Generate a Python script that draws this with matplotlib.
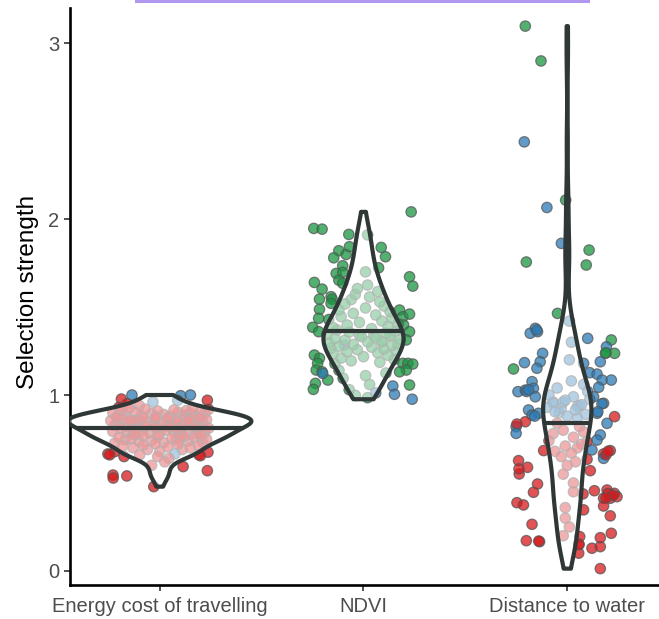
import numpy as np
import matplotlib
matplotlib.use("Agg")
import matplotlib.pyplot as plt
from matplotlib.patches import Polygon, Rectangle

# ---------------- data ----------------
categories = ["Energy cost of travelling", "NDVI", "Distance to water"]
y_ticks = [0, 1, 2, 3]

energy_y = [1.000, 0.996, 1.000, 0.977,
            0.960, 0.970, 0.970, 0.930, 0.940, 0.950,
            0.877, 0.879, 0.881, 0.884, 0.886, 0.888, 0.890, 0.893, 0.895, 0.897, 0.899, 0.902,
            0.904, 0.906, 0.909, 0.911, 0.913, 0.915, 0.918, 0.920, 0.922, 0.924,
            0.826, 0.828, 0.830, 0.832, 0.834, 0.836, 0.838, 0.840, 0.842, 0.844, 0.846, 0.848, 0.850,
            0.852, 0.854, 0.856, 0.858, 0.860, 0.862, 0.864, 0.866, 0.868, 0.870, 0.871, 0.872, 0.874,
            0.845, 0.855, 0.865, 0.875,
            0.776, 0.778, 0.780, 0.782, 0.785, 0.787, 0.789, 0.791, 0.793, 0.796, 0.798, 0.800,
            0.802, 0.804, 0.806, 0.809, 0.811, 0.813, 0.815, 0.817, 0.819, 0.821, 0.823,
            0.727, 0.730, 0.733, 0.735, 0.738, 0.741, 0.744, 0.746, 0.749, 0.752, 0.755, 0.758,
            0.761, 0.764, 0.766, 0.769, 0.771, 0.774,
            0.853, 0.857, 0.755,
            0.678, 0.675, 0.680, 0.690, 0.690, 0.700, 0.700, 0.705, 0.710, 0.712, 0.716, 0.720, 0.723,
            0.665, 0.660, 0.650, 0.660, 0.655, 0.665, 0.660, 0.650, 0.640,
            0.593, 0.620, 0.600,
            0.570, 0.545, 0.528, 0.540,
            0.479]
energy_x = [-0.136, 0.103, 0.151, -0.188,
            -0.033, 0.088, 0.234, -0.20, -0.10, -0.16,
            -0.21, 0.05, 0.18, -0.09, 0.12, -0.17, 0.02, 0.22, -0.04, 0.15, -0.23, 0.09,
            -0.12, 0.20, -0.01, 0.13, -0.19, 0.07, 0.24, -0.07, 0.16, -0.15,
            0.03, -0.22, 0.11, -0.03, 0.19, -0.11, 0.06, -0.20, 0.14, -0.06, 0.21, -0.14, 0.01,
            0.17, -0.24, 0.08, -0.10, 0.23, -0.02, 0.12, -0.18, 0.04, 0.20, -0.08, 0.15, -0.21,
            0.09, -0.12, 0.16, -0.02,
            0.10, -0.13, 0.00, 0.18, -0.05, 0.22, -0.16, 0.07, -0.23, 0.13, -0.09, 0.03,
            0.19, -0.12, 0.09, -0.19, 0.24, -0.02, 0.11, -0.15, 0.05, -0.07, 0.16,
            -0.22, 0.02, 0.21, -0.10, 0.14, -0.04, 0.08, -0.17, 0.23, -0.14, 0.06, -0.20,
            0.17, -0.01, 0.12, -0.08, 0.20, -0.12,
            0.14, -0.15, 0.10,
            -0.221, 0.237, 0.00, -0.06, 0.11, -0.13, 0.15, 0.04, -0.18, 0.19, -0.08, 0.09, -0.02,
            -0.254, -0.245, -0.175, 0.193, 0.200, 0.074, -0.098, -0.010, 0.045,
            0.115, 0.025, -0.040,
            0.234, -0.229, -0.228, -0.161,
            -0.029]
energy_c = ("bbbr" + "bbr" + "rrr" + "r" * 22 + "r" * 26 + "r" * 4 + "r" * 23 + "r" * 18 + "r" * 3
            + "r" * 13 + "rrrrrbrrr" + "rrr" + "rrrr" + "r")

ndvi_y = [2.041, 1.947, 1.943, 1.913, 1.839, 1.786, 1.820, 1.780, 1.799, 1.843, 1.735, 1.691, 1.697, 1.653,
          1.635, 1.723, 1.640, 1.602, 1.545, 1.559, 1.545, 1.672, 1.619, 1.385, 1.360, 1.487, 1.521, 1.483,
          1.445, 1.460, 1.398, 1.360, 1.313, 1.227, 1.209, 1.180, 1.142, 1.132, 1.085, 1.066, 1.032, 1.180,
          1.180, 1.176, 1.142, 1.132, 1.057, 1.436,
          1.051, 1.004, 0.976, 1.123, 1.284,
          0.985, 0.998, 1.012, 1.030,
          1.060, 1.300, 1.095, 1.110, 1.125, 1.140,
          1.335, 1.340, 1.346, 1.178, 1.186, 1.194, 1.202, 1.210, 1.218, 1.226, 1.234, 1.240, 1.247,
          1.252, 1.257, 1.262, 1.267, 1.272, 1.277, 1.282, 1.287, 1.292, 1.297, 1.302, 1.307, 1.312,
          1.317, 1.322, 1.327, 1.332, 1.337, 1.344,
          1.352, 1.358, 1.364, 1.370, 1.377, 1.384, 1.391, 1.398, 1.405, 1.413, 1.421, 1.429, 1.437, 1.446,
          1.455, 1.464, 1.474, 1.484, 1.495, 1.506, 1.518, 1.530, 1.543,
          1.557, 1.572, 1.588, 1.605, 1.625,
          1.700, 1.910]
ndvi_x = [0.234, -0.244, -0.203, -0.072, 0.087, 0.108, -0.121, -0.146, -0.085, -0.069, -0.102, -0.134, -0.102, -0.121,
          -0.102, 0.074, -0.241, -0.203, -0.216, -0.159, -0.154, 0.226, 0.242, -0.249, -0.220, -0.216, -0.159, 0.177,
          0.193, 0.226, 0.197, 0.226, 0.210, -0.241, -0.216, -0.225, -0.232, -0.203, -0.175, -0.236, -0.246, 0.193,
          0.218, 0.242, 0.210, 0.177, 0.226, -0.220,
          0.144, 0.152, 0.239, -0.200, -0.093,
          0.02, -0.04, 0.06, -0.07,
          0.03, 0.09, -0.10, 0.01, 0.11, -0.12,
          0.05, -0.02, 0.13, -0.14, 0.08, -0.06, 0.15, -0.11, 0.00, 0.12, -0.15, 0.07, -0.08,
          0.16, -0.03, 0.10, -0.16, 0.04, -0.12, 0.14, -0.05, 0.17, -0.17, 0.02, 0.09, -0.09,
          0.18, -0.14, 0.06, -0.01, 0.13, -0.18,
          0.11, -0.07, 0.16, -0.13, 0.04, -0.15, 0.12, -0.08, 0.17, -0.02, 0.09, -0.17, 0.14, -0.11,
          0.06, -0.05, 0.13, -0.12, 0.01, 0.10, -0.09, 0.08, -0.06,
          0.03, -0.04, 0.07, -0.03, 0.02,
          0.01, 0.02]
ndvi_c = "g" * 48 + "bbbbb" + "ggbg" + "g" * 68

water_y = [3.097, 2.899, 2.439, 2.066, 2.108, 1.862, 1.824, 1.756, 1.739, 1.464,
           1.379, 1.351, 1.360, 1.322, 1.313, 1.274, 1.237, 1.237, 1.189, 1.237,
           1.189, 1.184, 1.148, 1.152, 1.180, 1.127, 1.119, 1.085, 1.085, 1.044,
           1.076, 1.019, 1.028, 1.038, 0.990, 0.915, 0.886, 0.896, 0.990, 0.953,
           0.896, 0.839, 0.877, 0.848, 0.820, 0.835, 0.782, 0.773, 0.735, 0.744,
           0.688, 0.665, 0.684, 0.640, 0.635, 0.570, 0.627, 0.589, 0.551, 0.684,
           0.494, 0.447, 0.456, 0.460, 0.441, 0.413, 0.413, 0.422, 0.438, 0.388,
           0.375, 0.369, 0.313, 0.347, 0.265, 0.172, 0.166, 0.153, 0.101, 0.129,
           0.138, 0.189, 0.214, 0.013, 0.195,
           1.020, 1.030, 0.950, 0.905, 0.880, 1.370, 1.240, 0.870, 0.900, 0.940, 0.960, 1.300,
           0.440, 0.430, 0.415, 0.170, 0.150, 0.660, 0.680, 0.580, 0.250, 0.200, 0.450, 0.300,
           0.925, 0.935, 0.955, 1.080, 1.060, 1.040, 1.020, 1.000, 0.990, 0.975,
           0.960, 0.945, 0.930, 0.915, 0.905, 0.890, 0.880, 1.200, 1.420, 0.970,
           0.840, 0.820, 0.800, 0.790, 0.780, 0.760, 0.740, 0.720, 0.710, 0.700,
           0.680, 0.670, 0.650, 0.620, 0.600, 0.550, 0.500, 0.360]
water_x = [-0.206, -0.129, -0.211, -0.100, -0.008, -0.029, 0.107, -0.201, 0.093, -0.048,
           -0.157, -0.182, -0.146, 0.100, 0.216, 0.192, 0.187, 0.232, 0.162, -0.121,
           -0.133, -0.210, -0.264, -0.149, 0.080, 0.110, 0.146, 0.171, 0.216, 0.154,
           -0.173, -0.242, -0.206, -0.166, -0.157, -0.190, -0.173, -0.141, 0.129, 0.178,
           0.146, 0.195, 0.232, -0.206, -0.251, -0.247, -0.251, 0.162, 0.097, 0.146,
           0.121, 0.178, 0.211, 0.178, 0.097, 0.113, -0.239, -0.195, -0.236, -0.116,
           -0.146, -0.166, 0.133, 0.195, 0.231, 0.178, 0.211, 0.244, 0.077, -0.247,
           -0.215, 0.178, 0.211, 0.080, -0.173, -0.201, -0.136, 0.056, 0.056, 0.121,
           0.162, 0.162, 0.216, 0.162, 0.061,
           -0.200, -0.190, 0.170, 0.150, -0.160, -0.150, 0.190, 0.05, -0.04, 0.06, -0.07, 0.02,
           0.200, 0.225, 0.190, -0.140, 0.058, 0.190, 0.200, -0.237, 0.01, -0.02, 0.03, -0.01,
           -0.03, 0.05, -0.07, 0.02, 0.08, -0.05, 0.10, -0.09, 0.03, 0.11,
           -0.02, 0.07, -0.10, 0.04, -0.06, 0.09, 0.00, 0.01, 0.01, -0.01,
           -0.05, 0.06, -0.02, 0.08, -0.07, 0.03, -0.09, 0.07, -0.01, 0.05,
           -0.06, 0.02, -0.03, 0.04, 0.00, -0.02, 0.03, -0.01]
water_c = ("ggbbgbggggbbbbgbggbbbbgbbbbbbbbbbbbbbbbbbbrrbrbbrbbrrbrrrrrr"
           + "r" * 25
           + "bbbbbbgbbbbb"
           + "r" * 12
           + "b" * 20
           + "r" * 18)

groups = [(energy_x, energy_y, energy_c), (ndvi_x, ndvi_y, ndvi_c), (water_x, water_y, water_c)]
palette = {"r": "#d7191c", "b": "#2c7bb6", "g": "#1a9641"}

# ---------------- figure ----------------
plt.rcParams["font.family"] = ["Liberation Sans", "DejaVu Sans"]
fig = plt.figure(figsize=(6.59, 6.19), dpi=100)
ax = fig.add_axes([70 / 659, 34 / 619, 589 / 659, 577 / 619])


def nrd0(v):
    v = np.asarray(v)
    sd = v.std(ddof=1)
    iqr = np.subtract(*np.percentile(v, [75, 25]))
    lo = min(sd, iqr / 1.34)
    return 0.9 * lo * len(v) ** -0.2


def kde(v, grid, bw):
    v = np.asarray(v)[:, None]
    return np.exp(-0.5 * ((grid[None, :] - v) / bw) ** 2).sum(0) / (len(v) * bw * np.sqrt(2 * np.pi))


dens_list = []
for gx, gy, gc in groups:
    y = np.asarray(gy)
    grid = np.linspace(y.min(), y.max(), 512)
    d = kde(y, grid, nrd0(y))
    dens_list.append((grid, d))
dmax = max(d.max() for _, d in dens_list)

violin_edge = "#2f3737"
for i, ((gx, gy, gc), (grid, d)) in enumerate(zip(groups, dens_list)):
    xs = i + np.asarray(gx)
    cols = [palette[c] for c in gc]
    ax.scatter(xs, gy, s=56, c=cols, alpha=0.75, edgecolors="#555555", linewidths=0.9, zorder=2)
    half = 0.45 * d / dmax
    verts = np.concatenate([np.column_stack([i - half, grid]),
                            np.column_stack([(i + half)[::-1], grid[::-1]])])
    poly = Polygon(verts, closed=True, facecolor=(1, 1, 1, 0.55), edgecolor=violin_edge,
                   linewidth=3.0, joinstyle="round", zorder=3)
    ax.add_patch(poly)
    cdf = np.cumsum(d)
    cdf = cdf / cdf[-1]
    yq = np.interp(0.5, cdf, grid)
    hq = np.interp(yq, grid, half)
    ax.plot([i - hq, i + hq], [yq, yq], color=violin_edge, linewidth=3.0,
            solid_capstyle="butt", zorder=4)

ax.set_xlim(-0.44, 2.45)
ax.set_ylim(-0.08, 3.2)
ax.set_xticks(range(len(categories)))
ax.set_xticklabels(categories)
ax.set_yticks(y_ticks)
ax.set_yticklabels([str(t) for t in y_ticks])
ax.tick_params(axis="both", colors="#333333", labelcolor="#4d4d4d", labelsize=14.5,
               length=4, width=1.2)
ax.tick_params(axis="x", pad=5)
ax.set_ylabel("Selection strength", fontsize=17.5, color="black")
ax.yaxis.set_label_coords(-0.052, 0.508)
for s in ["top", "right"]:
    ax.spines[s].set_visible(False)
for s in ["left", "bottom"]:
    ax.spines[s].set_linewidth(1.9)
    ax.spines[s].set_color("black")

fig.add_artist(Rectangle((135 / 659, 616 / 619), 455 / 659, 4 / 619, transform=fig.transFigure,
                         facecolor="#b197ee", edgecolor="none"))

fig.savefig("out.png", dpi=100)
